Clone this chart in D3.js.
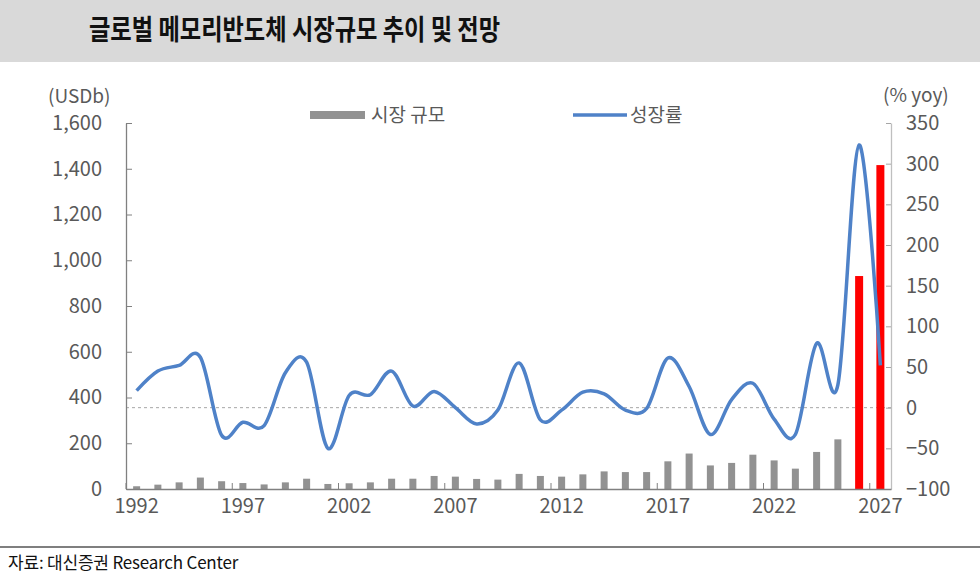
<!DOCTYPE html>
<html>
<head>
<meta charset="utf-8">
<script src="https://cdn.jsdelivr.net/npm/d3@7"></script>
<style>
  body { margin: 0; background: #fff; }
  svg { display: block; }
  text { font-family: "Noto Sans CJK KR", "Noto Sans", sans-serif; }
</style>
</head>
<body>
<svg id="chart" width="980" height="586"></svg>
<script>
// data
var years = d3.range(1992, 2028).map(String);
var marketSize = [12, 19, 29, 50, 34, 26, 20, 29, 45, 22, 25, 29, 45, 45, 57, 54, 44, 41,
  66, 57, 54, 64, 77, 74, 74, 121, 155, 103, 114, 150, 125, 89, 162, 217, 931, 1416];
var growth = [21, 45, 52, 62, -34, -18, -22, 43, 56, -50, 15, 16, 45, 2, 20, 0, -20, -3,
  55, -15, -3, 19, 17, -3, -1, 61, 26, -33, 10, 30, -14, -33, 79, 28, 323, 52];
var redYears = ['2026', '2027'];
var xTickYears = ['1992', '1997', '2002', '2007', '2012', '2017', '2022', '2027'];
var leftTicks = [0, 200, 400, 600, 800, 1000, 1200, 1400, 1600];
var rightTicks = [-100, -50, 0, 50, 100, 150, 200, 250, 300, 350];

var svg = d3.select('#chart');
var plot = { left: 126, right: 891, top: 123, bottom: 489 };

// title band
svg.append('rect').attr('x', 0).attr('y', 0).attr('width', 980).attr('height', 62)
  .style('fill', '#d9d9d9');
svg.append('text')
  .attr('transform', 'translate(89,40) scale(0.83,1)')
  .style('font-size', '28px').style('font-weight', 'bold').style('fill', '#111')
  .text('글로벌 메모리반도체 시장규모 추이 및 전망');

var x = d3.scaleBand().domain(years).range([plot.left, plot.right]);
var y = d3.scaleLinear().domain([0, 1600]).range([plot.bottom, plot.top]);
var y2 = d3.scaleLinear().domain([-100, 350]).range([plot.bottom, plot.top]);

// zero line of the growth axis
svg.append('line')
  .attr('x1', plot.left).attr('x2', plot.right)
  .attr('y1', y2(0)).attr('y2', y2(0))
  .style('stroke', '#a6a6a6').style('stroke-dasharray', '3,3');

// bars
var barW = 7;
svg.append('g').selectAll('rect')
  .data(years)
  .enter().append('rect')
  .attr('x', function(d) { return x(d) + x.bandwidth() / 2 - barW / 2 - (redYears.indexOf(d) >= 0 ? 0.5 : 0); })
  .attr('width', function(d) { return redYears.indexOf(d) >= 0 ? barW + 1 : barW; })
  .attr('y', function(d, i) { return y(marketSize[i]); })
  .attr('height', function(d, i) { return plot.bottom - y(marketSize[i]); })
  .style('fill', function(d) { return redYears.indexOf(d) >= 0 ? '#ff0000' : '#929292'; });

// left axis
var yAxis = svg.append('g')
  .attr('transform', 'translate(' + plot.left + ',0)')
  .call(d3.axisLeft(y).tickValues(leftTicks).tickFormat(d3.format(','))
    .tickSizeInner(-6).tickSizeOuter(0).tickPadding(24));

// right axis
var y2Axis = svg.append('g')
  .attr('transform', 'translate(' + plot.right + ',0)')
  .call(d3.axisRight(y2).tickValues(rightTicks).tickFormat(d3.format('d'))
    .tickSizeInner(-5).tickSizeOuter(0).tickPadding(15));

// bottom axis: labels at band centres, ticks at band edges every 5 years
var xAxis = svg.append('g')
  .attr('transform', 'translate(0,' + plot.bottom + ')')
  .call(d3.axisBottom(x).tickValues(xTickYears).tickSize(0).tickPadding(10));
xAxis.selectAll('.tick').append('line')
  .attr('class', 'edge')
  .attr('x1', -x.bandwidth() / 2).attr('x2', -x.bandwidth() / 2)
  .attr('y1', 0).attr('y2', -6);

[yAxis, y2Axis, xAxis].forEach(function(g) {
  g.selectAll('text').style('font-family', '"Noto Sans CJK KR", sans-serif')
    .style('font-size', '20px').style('fill', '#595959');
  g.selectAll('line').style('stroke', '#808080');
  g.select('.domain').style('stroke', '#808080').style('stroke-width', 1.3);
});
y2Axis.select('.domain').style('stroke', '#bfbfbf');
y2Axis.selectAll('line').style('stroke', '#a6a6a6');

// growth line, smoothed like the spreadsheet curve
var line = d3.line()
  .x(function(d, i) { return x(years[i]) + x.bandwidth() / 2; })
  .y(function(d) { return y2(d); })
  .curve(d3.curveCardinal.tension(0));
svg.append('path').datum(growth)
  .attr('d', line)
  .style('fill', 'none').style('stroke', '#4f82c8').style('stroke-width', 3.5);

// units
svg.append('text').attr('x', 48).attr('y', 103)
  .style('font-size', '19px').style('fill', '#595959').text('(USDb)');
svg.append('text').attr('x', 883).attr('y', 102)
  .style('font-size', '19px').style('fill', '#595959').text('(% yoy)');

// legend
svg.append('rect').attr('x', 310).attr('y', 111).attr('width', 55).attr('height', 8)
  .style('fill', '#929292');
svg.append('text').attr('x', 371).attr('y', 122)
  .style('font-size', '19px').style('fill', '#595959').text('시장 규모');
svg.append('line').attr('x1', 573).attr('x2', 627).attr('y1', 115).attr('y2', 115)
  .style('stroke', '#4f82c8').style('stroke-width', 3.5);
svg.append('text').attr('x', 630).attr('y', 122)
  .style('font-size', '19px').style('fill', '#595959').text('성장률');

// footer
svg.append('line').attr('x1', 0).attr('x2', 980).attr('y1', 547).attr('y2', 547)
  .style('stroke', '#7f7f7f').style('stroke-width', 2);
svg.append('text').attr('x', 8).attr('y', 569)
  .style('font-size', '17px').style('letter-spacing', '-0.2px').style('fill', '#111')
  .text('자료: 대신증권 Research Center');
</script>
</body>
</html>
